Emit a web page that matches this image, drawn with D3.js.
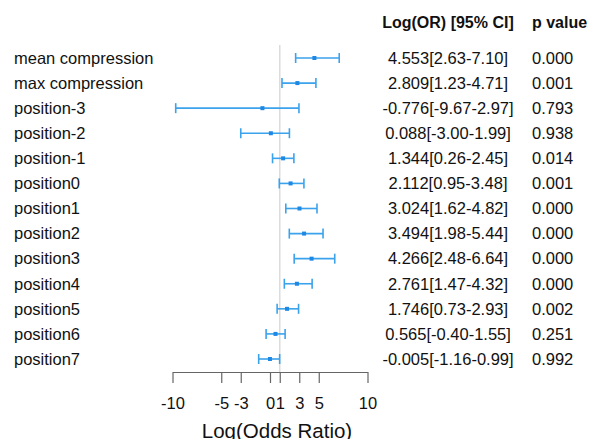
<!DOCTYPE html>
<html>
<head>
<meta charset="utf-8">
<script src="https://cdn.jsdelivr.net/npm/d3@7"></script>
<style>
  body { margin: 0; background: #fff; }
  text { font-family: "Liberation Sans", Arial, sans-serif; fill: #111; }
</style>
</head>
<body>
<svg></svg>
<script>
const labels = ["mean compression", "max compression", "position-3", "position-2", "position-1",
                "position0", "position1", "position2", "position3", "position4",
                "position5", "position6", "position7"];
const estimates = [4.553, 2.809, -0.776, 0.088, 1.344, 2.112, 3.024, 3.494, 4.266, 2.761, 1.746, 0.565, -0.005];
const lower = [2.63, 1.23, -9.67, -3.00, 0.26, 0.95, 1.62, 1.98, 2.48, 1.47, 0.73, -0.40, -1.16];
const upper = [7.10, 4.71, 2.97, 1.99, 2.45, 3.48, 4.82, 5.44, 6.64, 4.32, 2.93, 1.55, 0.99];
const pValues = ["0.000", "0.001", "0.793", "0.938", "0.014", "0.001", "0.000", "0.000", "0.000", "0.000", "0.002", "0.251", "0.992"];
const tickValues = [-10, -5, -3, 0, 1, 3, 5, 10];
const refValue = 1;

const width = 589, height = 439;
const svg = d3.select("svg").attr("width", width).attr("height", height);

const rows = labels.map((name, i) => ({
  name, est: estimates[i], lo: lower[i], hi: upper[i], p: pValues[i]
}));

// plain hyphen instead of unicode minus, like the original
const fmt = (spec) => { const f = d3.format(spec); return v => f(v).replace("\u2212", "-"); };
const f3 = fmt(".3f"), f2 = fmt(".2f");

const x = d3.scaleLinear().domain([-10, 10]).range([172.5, 367.5]);
const y = d3.scalePoint().domain(labels).range([58, 359]);
const axisY = 372;
const blue = "#3ba2ec";
const fontSize = "16.5px";

// reference line
svg.append("line")
    .attr("x1", x(refValue)).attr("x2", x(refValue))
    .attr("y1", 45).attr("y2", axisY)
    .attr("stroke", "#dcdcdc")
    .attr("stroke-width", 1.5);

// row labels
svg.append("g").selectAll("text")
    .data(rows).enter().append("text")
    .attr("x", 14)
    .attr("y", d => y(d.name))
    .attr("dy", "0.35em")
    .attr("font-size", fontSize)
    .text(d => d.name);

// error bars
const bars = svg.append("g").selectAll("g")
    .data(rows).enter().append("g")
    .attr("transform", d => `translate(0,${y(d.name)})`);

bars.append("line")
    .attr("x1", d => x(d.lo)).attr("x2", d => x(d.hi))
    .attr("stroke", blue).attr("stroke-width", 1.6);

bars.selectAll(".cap")
    .data(d => [d.lo, d.hi]).enter().append("line")
    .attr("x1", v => x(v)).attr("x2", v => x(v))
    .attr("y1", -5).attr("y2", 5)
    .attr("stroke", blue).attr("stroke-width", 1.6);

bars.append("rect")
    .attr("x", d => x(d.est) - 2).attr("y", -2)
    .attr("width", 4).attr("height", 4)
    .attr("fill", "#1e88e5");

// table columns
const ciX = 448, pX = 532;
svg.append("text")
    .attr("x", ciX).attr("y", 22).attr("dy", "0.35em")
    .attr("text-anchor", "middle")
    .attr("font-size", "16px").attr("font-weight", "bold")
    .text("Log(OR) [95% CI]");
svg.append("text")
    .attr("x", pX).attr("y", 22).attr("dy", "0.35em")
    .attr("font-size", "16px").attr("font-weight", "bold")
    .text("p value");

svg.append("g").selectAll("text")
    .data(rows).enter().append("text")
    .attr("x", ciX).attr("y", d => y(d.name)).attr("dy", "0.35em")
    .attr("text-anchor", "middle")
    .attr("font-size", fontSize)
    .text(d => `${f3(d.est)}[${f2(d.lo)}-${f2(d.hi)}]`);

svg.append("g").selectAll("text")
    .data(rows).enter().append("text")
    .attr("x", pX).attr("y", d => y(d.name)).attr("dy", "0.35em")
    .attr("font-size", fontSize)
    .text(d => d.p);

// x axis
const axis = svg.append("g")
    .attr("transform", `translate(0,${axisY})`)
    .call(d3.axisBottom(x).tickValues(tickValues).tickFormat(fmt("d"))
          .tickSize(11).tickSizeOuter(0).tickPadding(14));
axis.select(".domain").attr("stroke", "#666").attr("stroke-width", 1.2);
axis.selectAll(".tick line").attr("stroke", "#666").attr("stroke-width", 1.2);
axis.selectAll(".tick text")
    .attr("font-size", fontSize)
    .attr("font-family", "Liberation Sans, Arial, sans-serif")
    .attr("fill", "#111");

svg.append("text")
    .attr("x", 277).attr("y", 438)
    .attr("text-anchor", "middle")
    .attr("font-size", "20.5px")
    .text("Log(Odds Ratio)");
</script>
</body>
</html>
